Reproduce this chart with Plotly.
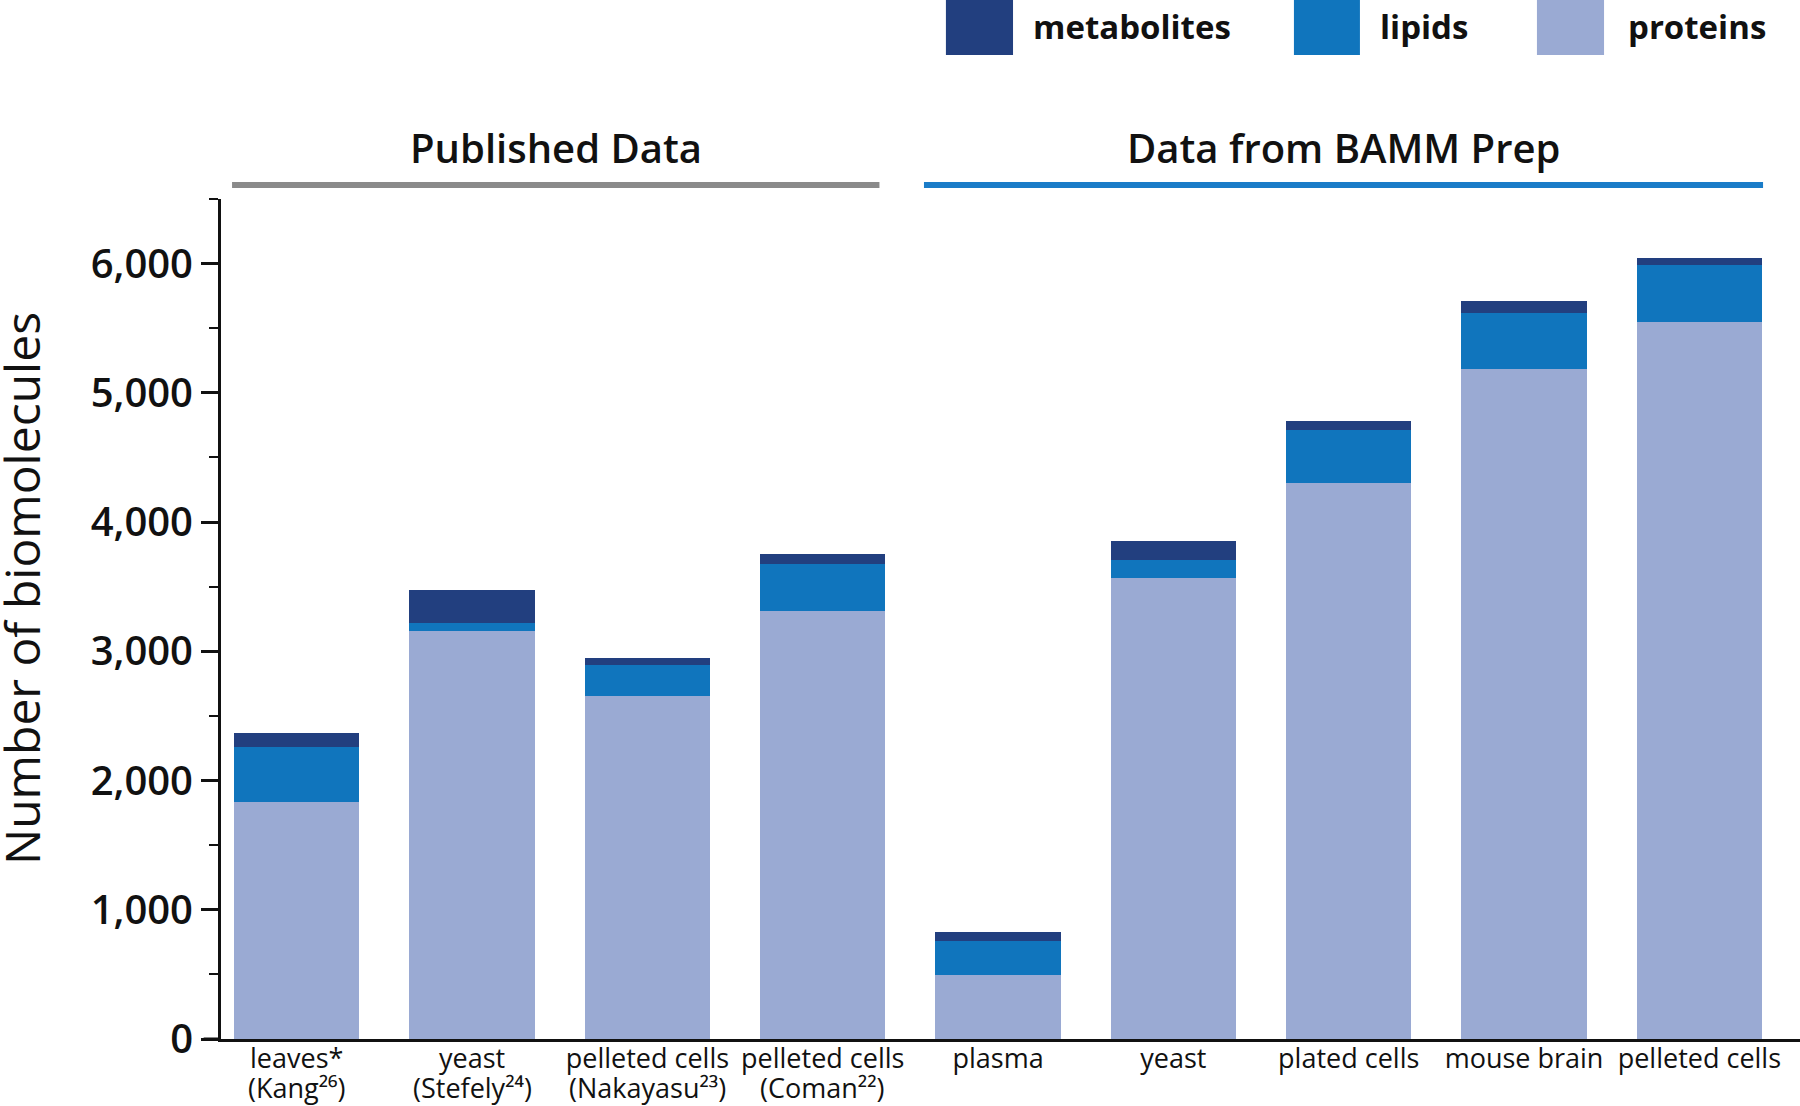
import plotly.graph_objects as go

sample_labels = ["leaves*", "yeast", "pelleted cells", "pelleted cells", "plasma",
                 "yeast", "plated cells", "mouse brain", "pelleted cells"]
sources = ["(Kang²⁶)", "(Stefely²⁴)", "(Nakayasu²³)", "(Coman²²)", "", "", "", "", ""]
categories = [f"{s} {c}".strip() if c else f"{s} (BAMM)" for s, c in zip(sample_labels, sources)]

proteins = [1835, 3160, 2658, 3312, 493, 3570, 4300, 5185, 5545]
lipids = [422, 61, 235, 362, 262, 133, 415, 431, 446]
metabolites = [110, 251, 55, 81, 72, 149, 65, 91, 55]

series_names = ["proteins", "lipids", "metabolites"]
colors = {"metabolites": "#223f7f", "lipids": "#1075bd", "proteins": "#9aaad3"}
values = {"proteins": proteins, "lipids": lipids, "metabolites": metabolites}

group_labels = ["Published Data", "Data from BAMM Prep"]
y_ticks = [0, 1000, 2000, 3000, 4000, 5000, 6000]

FONT = "Open Sans"

fig = go.Figure()
for name in series_names:
    fig.add_trace(go.Bar(
        x=categories, y=values[name], name=name,
        marker=dict(color=colors[name], line=dict(width=0)),
        showlegend=False,
    ))

fig.update_layout(
    barmode="stack",
    bargap=0.285,
    width=1800, height=1106,
    margin=dict(l=221, r=0, t=199, b=67, pad=0, autoexpand=False),
    plot_bgcolor="white", paper_bgcolor="white",
    font=dict(family=FONT, color="#111111"),
)

fig.update_xaxes(
    type="category",
    range=[-0.432, 8.574],
    automargin=False,
    tickvals=categories, ticktext=sample_labels,
    showline=True, linecolor="#111111", linewidth=3,
    ticks="", showgrid=False,
    ticklabelstandoff=-6,
    tickfont=dict(family=FONT, size=27, color="#111111"),
)
fig.update_yaxes(
    range=[0, 6500],
    automargin=False,
    tickvals=y_ticks, tickformat=",d",
    showline=True, linecolor="#111111", linewidth=3,
    ticks="outside", ticklen=17, tickwidth=2.5, tickcolor="#111111",
    minor=dict(dtick=500, ticks="outside", ticklen=9, tickwidth=2, tickcolor="#111111"),
    showgrid=False, zeroline=False,
    tickfont=dict(family=FONT, size=40, color="#111111", weight=600),
)

# second line of the category labels (sources)
for cat, src in zip(categories, sources):
    if src:
        fig.add_annotation(text=src, xref="x", yref="paper", x=cat, y=-0.0583,
                           showarrow=False, xanchor="center", yanchor="middle",
                           font=dict(family=FONT, size=27, color="#111111"))

# y-axis title
fig.add_annotation(
    text="Number of biomolecules", xref="paper", yref="paper",
    x=-0.1262, y=0.5366, textangle=-90, showarrow=False,
    xanchor="center", yanchor="middle",
    font=dict(family=FONT, size=48, color="#111111"),
)

# small x-axis extension left of y-axis
fig.add_shape(type="line", xref="paper", yref="paper", x0=-0.011, x1=0, y0=0, y1=0,
              line=dict(color="#111111", width=3))

# group headers
fig.add_shape(type="line", xref="paper", yref="paper", x0=0.007, x1=0.417, y0=1.0167, y1=1.0167,
              line=dict(color="#8a8a8a", width=6))
fig.add_shape(type="line", xref="paper", yref="paper", x0=0.4452, x1=0.9766, y0=1.0167, y1=1.0167,
              line=dict(color="#1a7cc8", width=6))
fig.add_annotation(text=group_labels[0], xref="paper", yref="paper", x=0.212, y=1.0619,
                   showarrow=False, xanchor="center", yanchor="middle",
                   font=dict(family=FONT, size=40, color="#111111", weight=600))
fig.add_annotation(text=group_labels[1], xref="paper", yref="paper", x=0.7106, y=1.0619,
                   showarrow=False, xanchor="center", yanchor="middle",
                   font=dict(family=FONT, size=40, color="#111111", weight=600))

# manual legend
legend_items = [("metabolites", 0.4591, 0.5016, 0.513),
                ("lipids", 0.6795, 0.7213, 0.7327),
                ("proteins", 0.8334, 0.8759, 0.8898)]
for name, x0, x1, tx in legend_items:
    fig.add_shape(type="rect", xref="paper", yref="paper", x0=x0, x1=x1, y0=1.1714, y1=1.2369,
                  fillcolor=colors[name], line=dict(width=0))
    fig.add_annotation(text=name, xref="paper", yref="paper", x=tx, y=1.2048,
                       showarrow=False, xanchor="left", yanchor="middle",
                       font=dict(family=FONT, size=33, color="#111111", weight=700))

fig.write_html("out.html", config={"displayModeBar": False},
               post_script="document.body.style.margin='0';")
